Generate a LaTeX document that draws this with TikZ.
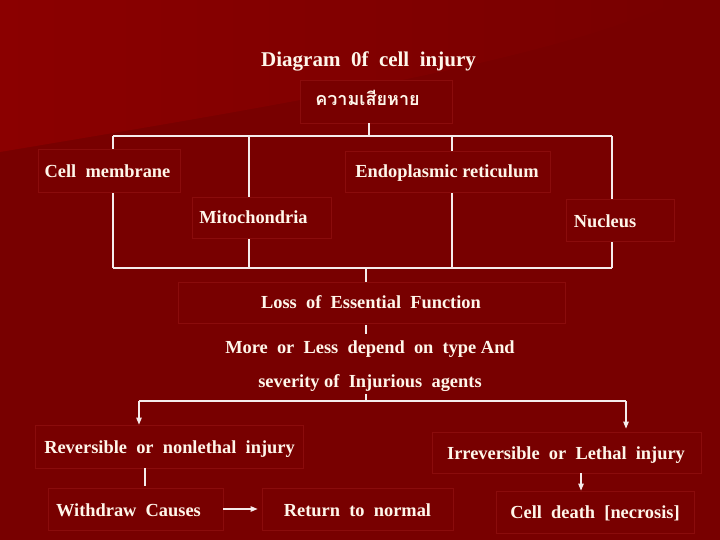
\documentclass[tikz,border=0pt]{standalone}
\usepackage{fontspec}
\setmainfont{Liberation Serif}
\newfontfamily\thaifont[Script=Thai]{Loma}
\usetikzlibrary{arrows.meta}
\definecolor{bgred}{RGB}{120,0,0}
\definecolor{hired}{RGB}{139,0,0}
\definecolor{boxline}{RGB}{138,12,12}
\definecolor{ink}{RGB}{255,246,234}
\definecolor{wire}{RGB}{245,235,235}
\tikzset{
  boxnode/.style={draw=boxline, line width=0.8pt, fill=bgred, inner sep=0pt},
  txt/.style={text=ink, font=\fontsize{18.4}{20}\selectfont\bfseries, inner sep=0pt, anchor=base},
  wireline/.style={draw=wire, line width=1.1pt},
  arrowline/.style={draw=wire, line width=1.1pt, -{Triangle[length=7pt,width=5.5pt]}}
}
\begin{document}
\begin{tikzpicture}[x=1pt,y=-1pt]
\useasboundingbox (0,0) rectangle (720,540);
\fill[bgred] (0,0) rectangle (720,540);
\shade[left color=hired, right color=bgred] (0,0) -- (680,0) .. controls (560,60) and (250,110) .. (0,152) -- cycle;

% tree connectors (drawn first, boxes cover them)
\coordinate (bus-top) at (369,136);
\coordinate (bus-l) at (113,136);
\coordinate (bus-r) at (612,136);
\coordinate (bot-l) at (113,268);
\coordinate (bot-r) at (612,268);
\coordinate (bot-m) at (366,268);
\coordinate (c1t) at (249,136);
\coordinate (c1b) at (249,268);
\coordinate (c2t) at (452,136);
\coordinate (c2b) at (452,268);
\coordinate (mid-a) at (366,334);
\coordinate (mid-b) at (366,394);
\coordinate (split) at (366,401);
\coordinate (split-l) at (139,401);
\coordinate (split-r) at (626,401);

\draw[wireline] (bus-l) -- (bus-r);
\draw[wireline] (bot-l) -- (bot-r);
\draw[wireline] (bus-l) -- (bot-l);
\draw[wireline] (c1t) -- (c1b);
\draw[wireline] (c2t) -- (c2b);
\draw[wireline] (bus-r) -- (bot-r);

% boxes
\node[boxnode, minimum width=152pt, minimum height=43pt] (thai) at (376,101.5) {};
\node[boxnode, minimum width=142pt, minimum height=43pt] (cm) at (109,170.5) {};
\node[boxnode, minimum width=205pt, minimum height=41pt] (er) at (447.5,171.5) {};
\node[boxnode, minimum width=139pt, minimum height=41pt] (mito) at (261.5,217.5) {};
\node[boxnode, minimum width=108pt, minimum height=42pt] (nuc) at (620,220) {};
\node[boxnode, minimum width=387pt, minimum height=41pt] (loss) at (371.5,302.5) {};
\node[boxnode, minimum width=268pt, minimum height=43pt] (rev) at (169,446.5) {};
\node[boxnode, minimum width=175pt, minimum height=42pt] (wd) at (135.5,509) {};
\node[boxnode, minimum width=191pt, minimum height=42pt] (ret) at (357.5,509) {};
\node[boxnode, minimum width=269pt, minimum height=41pt] (irr) at (566.5,452.5) {};
\node[boxnode, minimum width=198pt, minimum height=42pt] (cd) at (595,512) {};

% texts
\node[txt, font=\fontsize{21}{24}\selectfont\bfseries] (title) at (368.5,67) {Diagram~~0f~~cell~~injury};
\node[txt, font=\fontsize{18}{22}\selectfont\thaifont\bfseries] (thai-t) at (367.5,106) {ความเสียหาย};
\node[txt] (cm-t) at (107.5,177.5) {Cell~~membrane};
\node[txt] (er-t) at (447,177.5) {Endoplasmic~reticulum};
\node[txt] (mito-t) at (253.5,223) {Mitochondria};
\node[txt] (nuc-t) at (605,227) {Nucleus};
\node[txt] (loss-t) at (371,308) {Loss~~of~~Essential~~Function};
\node[txt] (more-t) at (370,353) {More~~or~~Less~~depend~~on~~type And};
\node[txt] (sev-t) at (370,387) {severity of~~Injurious~~agents};
\node[txt] (rev-t) at (169.5,453) {Reversible~~or~~nonlethal~~injury};
\node[txt] (wd-t) at (128.5,516) {Withdraw~~Causes};
\node[txt] (ret-t) at (357.5,516) {Return~~to~~normal};
\node[txt] (irr-t) at (566,459) {Irreversible~~or~~Lethal~~injury};
\node[txt] (cd-t) at (595,518) {Cell~~death~~[necrosis]};

% remaining connectors
\draw[wireline] (thai.south -| bus-top) -- (bus-top);
\draw[wireline] (bot-m) -- (loss.north -| bot-m);
\draw[wireline] (loss.south -| mid-a) ++(0,2) -- (mid-a);
\draw[wireline] (mid-b) -- (split);
\draw[wireline] (split-l) -- (split-r);
\draw[arrowline] (split-l) -- (rev.north -| split-l);
\draw[arrowline, shorten >=3pt] (split-r) -- (irr.north -| split-r);
\draw[wireline, shorten >=2pt] (rev.south -| 145,0) -- (wd.north -| 145,0);
\draw[arrowline] (irr.south -| 581,0) -- (cd.north -| 581,0);
\draw[arrowline, shorten >=4pt] (wd.east |- 0,509) -- (ret.west |- 0,509);
\end{tikzpicture}
\end{document}
